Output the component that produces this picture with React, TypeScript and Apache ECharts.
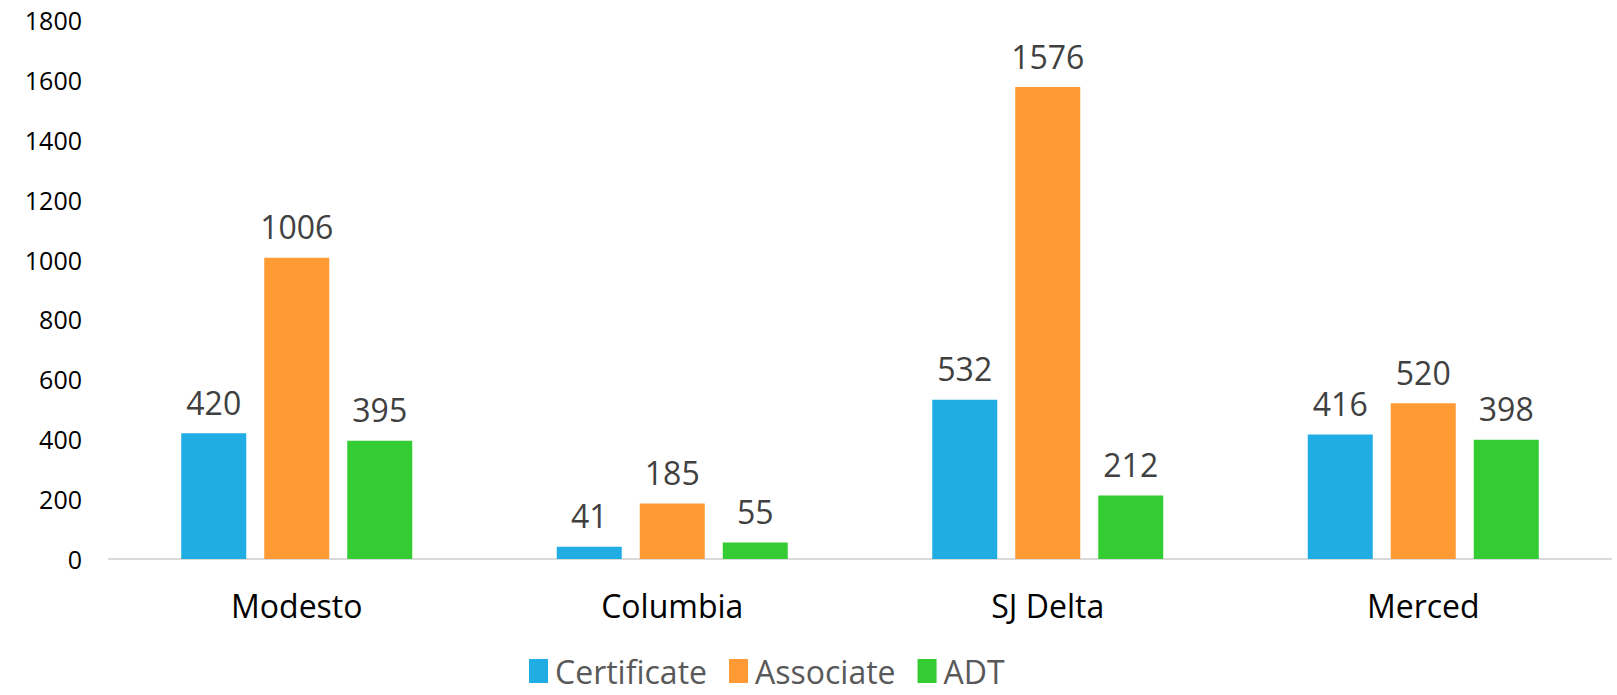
import React, { useEffect, useRef } from "react";
import * as echarts from "echarts";

const categories = ["Modesto", "Columbia", "SJ Delta", "Merced"];
const certificate = [420, 41, 532, 416];
const associate = [1006, 185, 1576, 520];
const adt = [395, 55, 212, 398];
const seriesNames = ["Certificate", "Associate", "ADT"];
const colors = ["#1FADE4", "#FF9A35", "#33CC33"];

export default function App() {
  const ref = useRef<HTMLDivElement>(null);
  useEffect(() => {
    if (!ref.current) return;
    const chart = echarts.init(ref.current, undefined, { renderer: "svg" });
    const label = {
      show: true,
      position: "top",
      distance: 15,
      color: "#404040",
      fontSize: 32,
      fontFamily: "'Open Sans', sans-serif",
    };
    const data = [certificate, associate, adt];
    chart.setOption({
      animation: false,
      grid: { left: 109, right: 6, top: 20, bottom: 136, containLabel: false },
      legend: {
        left: 524,
        top: 650,
        itemWidth: 19,
        itemHeight: 24,
        itemGap: 22,
        icon: "rect",
        textStyle: {
          color: "#595959",
          fontSize: 32,
          lineHeight: 32,
          fontFamily: "'Open Sans', sans-serif",
          padding: [0, 0, 0, 2],
        },
        data: seriesNames,
      },
      xAxis: {
        type: "category",
        data: categories,
        axisLine: { show: true, lineStyle: { color: "#D9D9D9", width: 2 } },
        axisTick: { show: false },
        axisLabel: {
          color: "#000000",
          fontSize: 32,
          margin: 30,
          fontFamily: "'Open Sans', sans-serif",
        },
      },
      yAxis: {
        type: "value",
        min: 0,
        max: 1800,
        interval: 200,
        splitLine: { show: false },
        axisLine: { show: false },
        axisTick: { show: false },
        axisLabel: {
          color: "#000000",
          fontSize: 25,
          margin: 27,
          fontFamily: "'Open Sans', sans-serif",
          formatter: (v: number) => String(v),
        },
      },
      series: seriesNames.map((name, i) => ({
        name,
        type: "bar",
        data: data[i],
        barWidth: 65,
        barGap: "27.7%",
        itemStyle: { color: colors[i] },
        label,
      })),
    });
    return () => chart.dispose();
  }, []);
  return (
    <div
      ref={ref}
      style={{ position: "fixed", left: 0, top: 0, width: 1617, height: 695, background: "#ffffff" }}
    />
  );
}
